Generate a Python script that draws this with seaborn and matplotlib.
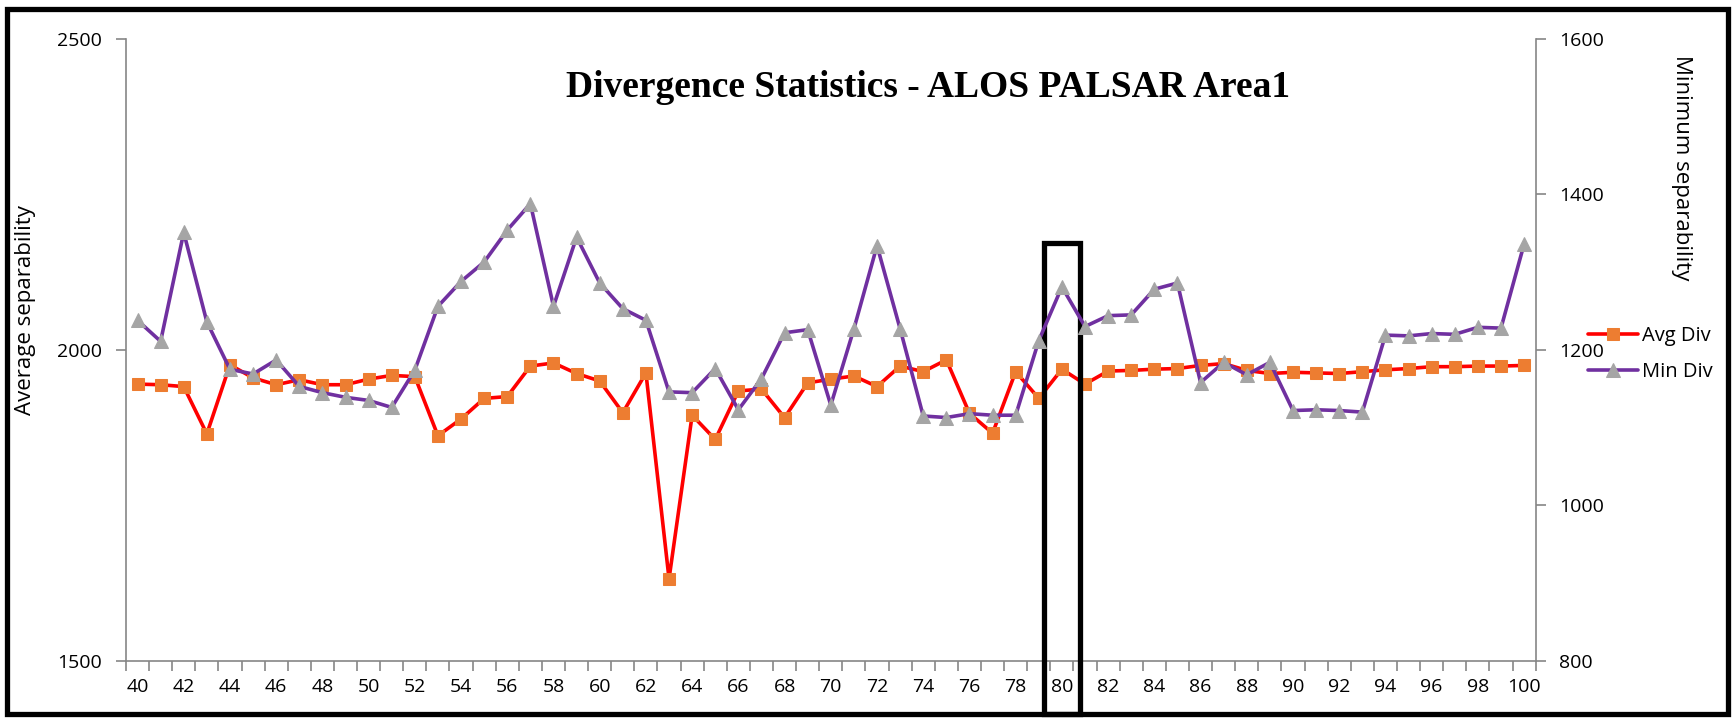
import matplotlib
matplotlib.use("Agg")
import matplotlib.pyplot as plt
import matplotlib.patches as mpatches
import matplotlib.transforms as mtransforms
import seaborn as sns
import numpy as np

# Number of features retained (category axis)
features = list(range(40, 101))

avg_div = [1945, 1944, 1941, 1865, 1976, 1955, 1944, 1952, 1944, 1944,
           1953, 1959, 1957, 1862, 1889, 1922, 1925, 1974, 1979, 1962,
           1950, 1899, 1963, 1632, 1895, 1856, 1934, 1937, 1891, 1947,
           1953, 1958, 1941, 1974, 1965, 1984, 1898, 1866, 1965, 1922,
           1969, 1945, 1966, 1967, 1969, 1970, 1975, 1978, 1967, 1962,
           1964, 1963, 1962, 1965, 1968, 1970, 1973, 1973, 1974, 1974,
           1975]

min_div = [1238, 1211, 1351, 1236, 1175, 1169, 1187, 1153, 1145, 1139,
           1135, 1126, 1174, 1256, 1288, 1313, 1354, 1388, 1256, 1345,
           1286, 1253, 1238, 1146, 1145, 1176, 1123, 1163, 1222, 1226,
           1129, 1227, 1334, 1227, 1115, 1113, 1118, 1116, 1116, 1212,
           1281, 1230, 1244, 1245, 1278, 1286, 1158, 1184, 1168, 1184,
           1122, 1123, 1122, 1120, 1219, 1218, 1221, 1220, 1229, 1228,
           1336]

left_ticks = [1500, 2000, 2500]
right_ticks = [800, 1000, 1200, 1400, 1600]
x_labels = list(range(40, 101, 2))
highlight = 80

title = "Divergence Statistics - ALOS PALSAR Area1"

sns.set_theme(style="white")
plt.rcParams["font.family"] = ["Open Sans", "DejaVu Sans"]
plt.rcParams["text.color"] = "black"

GRAY = "#868686"
RED = "#FF0000"
ORANGE = "#ED7D31"
PURPLE = "#7030A0"
TRI = "#A5A5A5"

fig = plt.figure(figsize=(17.35, 7.18), dpi=100)
fig.patch.set_facecolor("white")
ax = fig.add_axes([0.0726, 0.0794, 0.8125, 0.8666])
ax2 = ax.twinx()

sns.lineplot(x=features, y=avg_div, ax=ax, color=RED, linewidth=2.6,
             marker="s", markersize=9, markerfacecolor=ORANGE,
             markeredgecolor=ORANGE, label="Avg Div", legend=False)
sns.lineplot(x=features, y=min_div, ax=ax2, color=PURPLE, linewidth=2.6,
             marker="^", markersize=10, markerfacecolor=TRI,
             markeredgecolor=TRI, label="Min Div", legend=False)

ax.set_xlim(39.5, 100.5)
ax.set_ylim(1500, 2500)
ax2.set_ylim(800, 1600)

ax.set_yticks(left_ticks)
ax2.set_yticks(right_ticks)
ax.set_xticks(x_labels)
ax.set_xticklabels([str(v) for v in x_labels])
ax.set_xticks(np.arange(39.5, 100.6, 1.0), minor=True)

for a in (ax, ax2):
    a.set_facecolor("none")
    a.grid(False)
    for s in a.spines.values():
        s.set_color(GRAY)
        s.set_linewidth(1.2)
    a.spines["top"].set_visible(False)
    a.set_xlabel("")
    a.set_ylabel("")

ax.spines["right"].set_visible(False)
ax2.spines["left"].set_visible(False)
ax2.spines["bottom"].set_visible(False)

ax.tick_params(axis="y", which="major", direction="out", length=7, width=1.2,
               color=GRAY, labelsize=14, pad=10, left=True, labelcolor="black")
ax2.tick_params(axis="y", which="major", direction="out", length=7, width=1.2,
                color=GRAY, labelsize=14, pad=10, right=True, labelcolor="black")
ax.tick_params(axis="x", which="major", length=0, labelsize=14, pad=12,
               labelcolor="black")
ax.tick_params(axis="x", which="minor", direction="out", length=7, width=1.2,
               color=GRAY, bottom=True)

fig.text(0.0145, 0.568, "Average separability", rotation=90, ha="center",
         va="center", fontsize=16)
fig.text(0.9690, 0.767, "Minimum separability", rotation=270, ha="center",
         va="center", fontsize=16)

fig.text(0.535, 0.8653, title, ha="center", va="baseline", fontsize=27,
         fontweight="bold", family=["Liberation Serif"])

handles = ax.get_lines()[:1] + ax2.get_lines()[:1]
fig.legend(handles, ["Avg Div", "Min Div"], loc="center left",
           bbox_to_anchor=(0.9153, 0.507), frameon=False, fontsize=14.5,
           handlelength=2.5, handletextpad=0.2, labelspacing=0.8,
           borderpad=0, borderaxespad=0)

# Box marking the selected feature count
trans = mtransforms.blended_transform_factory(ax.transData, fig.transFigure)
ax.add_patch(mpatches.Rectangle((highlight - 0.78, 0.006), 1.56, 0.655,
                                transform=trans, fill=False, edgecolor="black",
                                linewidth=3.8, clip_on=False, zorder=5))

# Outer frame
fig.add_artist(mpatches.Rectangle((0.004, 0.0056), 0.992, 0.982,
                                  transform=fig.transFigure, fill=False,
                                  edgecolor="black", linewidth=3.8))

fig.savefig("out.png", dpi=100, facecolor="white")
